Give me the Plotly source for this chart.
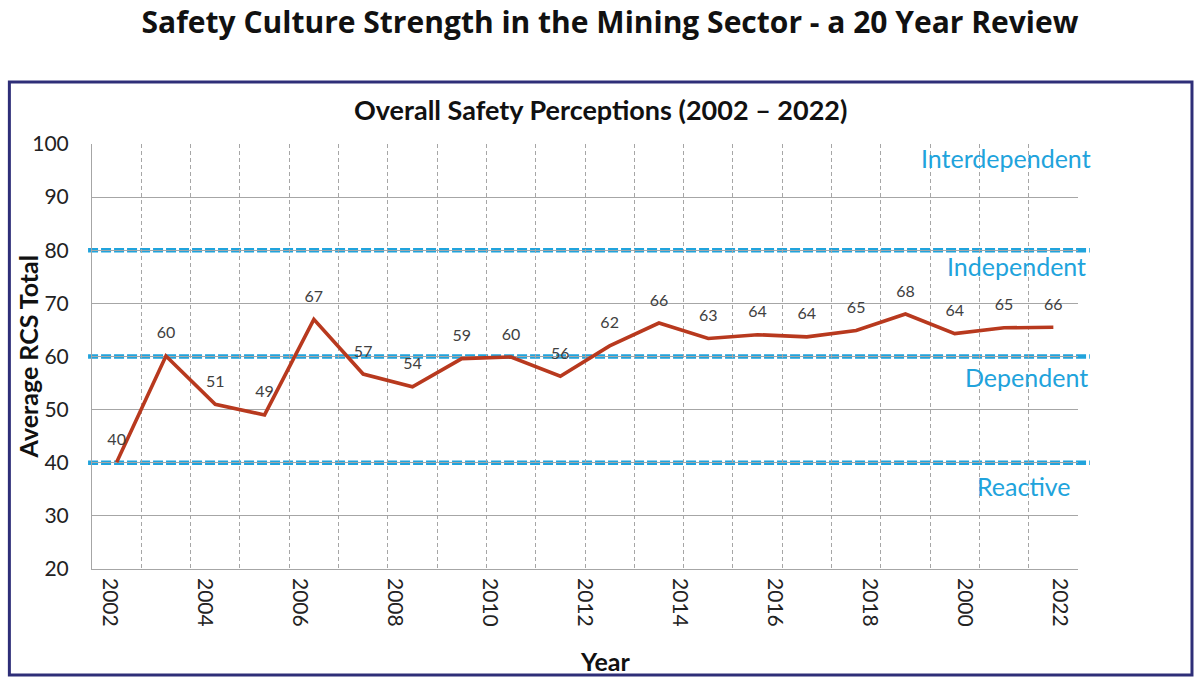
import plotly.graph_objects as go

# ---- data ----
values = [40.1, 60.1, 51.0, 49.0, 67.0, 56.7, 54.3, 59.6, 59.9, 56.3,
          62.0, 66.3, 63.4, 64.1, 63.7, 64.9, 68.0, 64.3, 65.4, 65.5]
point_labels = ["40", "60", "51", "49", "67", "57", "54", "59", "60", "56",
                "62", "66", "63", "64", "64", "65", "68", "64", "65", "66"]
tick_labels = ["2002", "2004", "2006", "2008", "2010", "2012",
               "2014", "2016", "2018", "2000", "2022"]
thresholds = [40, 60, 80]
level_names = ["Interdependent", "Independent", "Dependent", "Reactive"]
y_ticks = [20, 30, 40, 50, 60, 70, 80, 90, 100]

FONT = "Lato"
BLUE = "#21A3DC"
LINE = "#B8391E"
GRID = "#A6A6A6"

n = len(values)
fig = go.Figure()

fig.add_trace(go.Scatter(
    x=list(range(n)), y=values, mode="lines+markers+text",
    line=dict(color=LINE, width=3.6),
    marker=dict(size=20, color="rgba(0,0,0,0)"),
    text=point_labels, textposition="top center",
    textfont=dict(family=FONT, size=16, color="#404040"),
    hoverinfo="skip", showlegend=False, cliponaxis=False,
))

# invisible trace carrying the printed year labels axis
fig.add_trace(go.Scatter(
    x=list(range(len(tick_labels))), y=[None] * len(tick_labels),
    xaxis="x2", mode="markers", marker=dict(opacity=0),
    hoverinfo="skip", showlegend=False,
))

# level threshold lines
for t in thresholds:
    fig.add_shape(type="line", xref="paper", yref="y",
                  x0=-0.004, x1=1.012, y0=t, y1=t, layer="between",
                  line=dict(color=BLUE, width=4.5, dash="10px,3px"))

# level names
level_pos = [(1.0155, 97.4), (1.0105, 77.0), (1.0125, 56.1), (0.995, 35.6)]
for name, (px, py) in zip(level_names, level_pos):
    fig.add_annotation(text=name, xref="paper", yref="y", x=px, y=py,
                       xanchor="right", yanchor="middle", showarrow=False,
                       font=dict(family=FONT, size=25, color=BLUE))

# outer frame
fig.add_shape(type="rect", xref="paper", yref="paper",
              x0=-0.0838, x1=1.1156, y0=-0.2494, y1=1.1459,
              line=dict(color="#2E2E78", width=3), layer="above")

# titles
fig.add_annotation(text="<b>Overall Safety Perceptions (2002 \u2013 2022)</b>",
                   xref="paper", yref="paper", x=0.516, y=1.08, xanchor="center",
                   yanchor="middle", showarrow=False,
                   font=dict(family=FONT, size=27, color="#111111"))
fig.add_annotation(text="<b>Average RCS Total</b>", xref="paper", yref="paper",
                   x=-0.065, y=0.5, textangle=-90, xanchor="center",
                   yanchor="middle", showarrow=False,
                   font=dict(family=FONT, size=25, color="#111111"))
fig.add_annotation(text="<b>Year</b>", xref="paper", yref="paper",
                   x=0.52, y=-0.216, xanchor="center", yanchor="middle",
                   showarrow=False, font=dict(family=FONT, size=25, color="#111111"))

fig.update_layout(
    width=1200, height=680,
    margin=dict(l=92, r=122, t=144, b=111, autoexpand=False),
    paper_bgcolor="white", plot_bgcolor="white",
    title=dict(text="<b>Safety Culture Strength in the Mining Sector - a 20 Year Review</b>",
               x=610 / 1200, xanchor="center", y=1 - 22 / 680, yanchor="middle",
               xref="container", yref="container",
               font=dict(family="Open Sans", size=30, color="#111111")),
    xaxis=dict(range=[-0.5, n - 0.5], tickvals=[i + 0.5 for i in range(n)],
               showticklabels=False, ticks="", showgrid=True, griddash="4px,3px",
               gridcolor=GRID, gridwidth=1, showline=True, linecolor=GRID,
               linewidth=1, zeroline=False, fixedrange=True, automargin=False),
    xaxis2=dict(overlaying="x", anchor="y", side="bottom",
                range=[-0.189, len(tick_labels) - 1 + 0.189],
                tickvals=list(range(len(tick_labels))), ticktext=tick_labels,
                tickangle=90, showgrid=False, showline=False, zeroline=False,
                ticks="", tickfont=dict(family=FONT, size=21, color="#222222"),
                ticklabelstandoff=8, automargin=False),
    yaxis=dict(range=[20, 100], tickvals=y_ticks, showgrid=True,
               gridcolor=GRID, gridwidth=1, showline=True, linecolor=GRID,
               linewidth=1, zeroline=False, ticks="",
               tickfont=dict(family=FONT, size=21, color="#222222"),
               ticklabelstandoff=18, automargin=False),
)

# remove the page's default 8px body margin so the figure fills the window
fig.write_html("out.html", config={"displayModeBar": False},
               post_script="document.body.style.margin='0';document.body.style.overflow='hidden';")
